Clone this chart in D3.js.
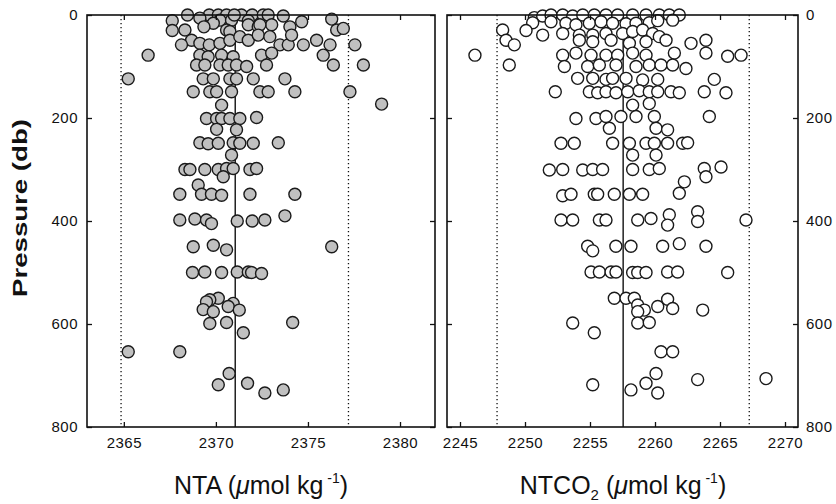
<!DOCTYPE html>
<html><head><meta charset="utf-8">
<script src="https://cdn.jsdelivr.net/npm/d3@7"></script>
<style>body{margin:0;background:#fff}svg{display:block}</style>
</head><body>
<svg id="chart" width="836" height="504"></svg>
<script>
// ---------- DATA ----------
// [pressure (db), NTA (umol/kg)]
const ntaData = [
 [0,2368.46],[0,2369.64],[0,2370.13],[0,2370.58],[0,2371.39],[0,2371.97],[0,2372.57],[0,2372.84],[2,2373.66],[8,2376.29],
 [11,2367.63],[6,2369.13],[10,2370.22],[10,2370.85],[11,2371.76],[13,2374.66],[16,2369.86],[0,2371.0],
 [30,2367.63],[29,2368.32],[23,2369.35],[29,2370.58],[32,2370.76],[19,2371.76],[23,2372.30],[19,2373.03],[23,2374.02],[29,2376.56],[26,2376.92],[19,2372.39],
 [49,2368.68],[58,2368.13],[55,2369.13],[58,2369.64],[55,2370.22],[49,2370.76],[42,2371.30],[49,2371.76],[39,2372.30],[42,2372.93],[58,2373.48],[58,2373.93],[39,2374.11],[58,2374.75],[49,2375.47],[58,2376.20],[58,2377.55],
 [78,2366.32],[78,2369.13],[81,2369.58],[78,2370.31],[81,2370.94],[78,2372.48],[74,2373.03],[78,2375.83],
 [97,2368.95],[97,2369.40],[97,2370.22],[97,2370.67],[97,2371.12],[100,2371.67],[97,2372.75],[97,2376.38],[97,2378.01],
 [124,2365.24],[124,2369.31],[124,2369.86],[124,2370.76],[124,2371.12],[124,2372.03],[124,2373.75],
 [149,2368.77],[149,2369.67],[149,2370.04],[149,2370.85],[149,2372.39],[149,2372.84],[149,2374.29],[149,2377.28],
 [173,2379.00],[175,2370.31],
 [201,2369.49],[201,2370.04],[201,2370.31],[201,2370.76],[201,2371.30],[199,2372.21],
 [222,2370.04],[223,2371.12],
 [248,2369.13],[250,2369.58],[249,2370.13],[248,2370.94],[249,2371.30],[249,2372.03],[248,2373.39],
 [272,2370.85],
 [300,2368.32],[300,2368.59],[300,2369.40],[300,2370.13],[298,2370.58],[298,2370.94],[300,2371.85],[298,2372.21],
 [314,2370.40],
 [330,2369.04],[348,2368.04],[348,2369.22],[348,2369.76],[350,2370.31],[348,2371.85],[348,2374.29],
 [398,2368.04],[396,2368.86],[398,2369.49],[405,2369.76],[400,2371.16],[400,2371.97],[398,2372.66],[390,2373.75],
 [450,2368.77],[447,2369.86],[456,2370.58],[450,2376.29],
 [500,2368.73],[499,2369.40],[500,2370.31],[499,2371.16],[499,2371.76],[500,2371.94],[502,2372.48],
 [550,2370.13],[553,2369.67],[557,2369.49],[560,2370.94],[572,2369.31],[576,2369.86],[566,2370.67],[573,2371.27],
 [599,2369.67],[597,2370.58],[617,2371.49],[597,2374.17],
 [654,2365.24],[654,2368.04],
 [696,2370.72],
 [718,2370.13],[715,2371.72],[734,2372.66],[728,2373.66]
];
// [pressure (db), NTCO2 (umol/kg)]
const tco2Data = [
 [5,2250.72],[2,2251.36],[0,2252.00],[0,2252.90],[2,2253.67],[0,2254.44],[0,2255.33],[0,2256.23],[0,2257.13],[0,2258.28],[0,2259.31],[0,2260.33],[0,2261.10],[0,2261.87],
 [15,2250.59],[13,2252.00],[16,2253.15],[19,2253.92],[16,2254.95],[13,2255.85],[16,2256.74],[17,2257.77],[16,2258.54],[15,2259.56],[11,2260.21],[10,2261.36],
 [29,2248.28],[30,2250.08],[39,2251.36],[36,2252.90],[39,2254.18],[39,2255.21],[36,2256.23],[36,2257.51],[32,2258.28],[29,2259.05],[36,2259.82],[42,2260.33],
 [49,2248.54],[58,2249.18],[49,2254.18],[52,2255.21],[49,2256.62],[55,2258.03],[52,2259.31],[49,2260.85],[55,2262.77],[49,2263.92],
 [78,2246.15],[78,2252.90],[74,2253.92],[78,2255.08],[78,2256.23],[78,2257.13],[74,2258.28],[78,2259.31],[74,2261.49],[74,2263.92],[80,2265.59],[78,2266.62],
 [97,2248.79],[100,2253.03],[100,2254.82],[97,2255.72],[97,2257.00],[100,2258.54],[97,2259.56],[97,2260.46],[97,2261.36],[104,2262.38],
 [123,2254.05],[123,2255.21],[125,2256.23],[123,2256.74],[123,2257.77],[126,2259.05],[125,2260.21],[125,2264.56],
 [149,2252.33],[149,2254.95],[151,2255.59],[149,2256.23],[151,2257.00],[149,2257.90],[147,2258.79],[149,2259.56],[149,2260.21],[149,2261.23],[151,2261.87],[149,2263.79],[151,2265.46],
 [175,2258.28],[172,2259.56],
 [201,2253.92],[201,2255.46],[197,2256.23],[197,2257.38],[197,2258.54],[197,2259.95],[197,2264.18],
 [220,2256.49],[220,2260.08],[223,2260.97],
 [249,2252.77],[249,2253.79],[249,2256.74],[249,2258.03],[249,2259.31],[249,2259.95],[249,2260.97],[249,2262.13],[248,2262.51],
 [272,2258.28],[272,2260.08],
 [301,2251.87],[300,2252.90],[301,2254.44],[300,2255.21],[300,2255.97],[300,2258.28],[300,2259.56],[298,2260.33],[298,2263.79],[295,2265.08],[314,2263.92],
 [324,2262.26],[346,2261.87],[351,2252.90],[348,2253.54],[348,2255.33],[348,2255.59],[348,2256.87],[348,2258.03],[348,2259.05],
 [382,2263.28],[388,2261.10],[401,2263.28],[398,2252.77],[398,2253.67],[398,2255.72],[398,2256.23],[398,2258.67],[395,2259.69],[408,2260.97],[398,2267.00],
 [449,2254.82],[458,2255.21],[449,2256.99],[449,2258.15],[449,2260.59],[444,2261.87],[449,2263.92],
 [499,2255.08],[499,2255.72],[499,2256.62],[499,2257.00],[500,2258.28],[500,2258.67],[500,2259.31],[499,2260.97],[499,2261.74],[500,2265.59],
 [550,2256.87],[550,2257.77],[550,2258.41],[563,2258.67],[573,2259.18],[566,2260.21],[552,2260.97],[570,2261.36],[573,2263.67],[576,2258.67],
 [598,2253.67],[598,2258.67],[597,2259.56],[617,2255.33],
 [654,2260.46],[654,2261.36],
 [696,2260.08],[715,2259.31],[718,2255.21],[708,2263.28],[706,2268.54],[728,2258.15],[734,2260.21]
];
// mean, lower limit, upper limit
const ntaLines = [2371.05, 2364.85, 2377.2];
const tco2Lines = [2257.55, 2247.85, 2267.25];
const ntaTicks = [2365, 2370, 2375, 2380];
const tco2Ticks = [2245, 2250, 2255, 2260, 2265, 2270];
const pressureTicks = [0, 200, 400, 600, 800];
const ntaDomain = [2363, 2381.9];
const tco2Domain = [2244, 2271];
const pressureDomain = [0, 800];

// ---------- DRAW ----------
const svg = d3.select("#chart");
const FONT = "'Liberation Sans', Arial, sans-serif";
const yTop = 15, yBot = 427;
const y = d3.scaleLinear().domain(pressureDomain).range([yTop, yBot]);

function panel(x0, x1, domain, data, lines, ticks, fill, labelSide) {
  const x = d3.scaleLinear().domain(domain).range([x0, x1]);
  const g = svg.append("g");
  g.append("line").attr("x1", x(lines[0])).attr("x2", x(lines[0]))
    .attr("y1", yTop).attr("y2", yBot).attr("stroke", "#111").attr("stroke-width", 1.4);
  [lines[1], lines[2]].forEach(v => {
    g.append("line").attr("x1", x(v)).attr("x2", x(v))
      .attr("y1", yTop).attr("y2", yBot).attr("stroke", "#111")
      .attr("stroke-width", 1.3).attr("stroke-dasharray", "1.3,2.7");
  });
  g.append("g").selectAll("circle").data(data).join("circle")
    .attr("cx", d => x(d[1])).attr("cy", d => y(d[0])).attr("r", 6)
    .attr("fill", fill).attr("stroke", "#1a1a1a").attr("stroke-width", 1.4);
  const axB = g.append("g").attr("transform", `translate(0,${yBot})`)
    .call(d3.axisBottom(x).tickValues(ticks).tickSize(-5).tickFormat(d3.format("d")));
  const axT = g.append("g").attr("transform", `translate(0,${yTop})`)
    .call(d3.axisTop(x).tickValues(ticks).tickSize(-5).tickFormat(""));
  const axL = g.append("g").attr("transform", `translate(${x0},0)`)
    .call(d3.axisLeft(y).tickValues(pressureTicks).tickSize(-5).tickFormat(labelSide === "left" ? d3.format("d") : ""));
  const axR = g.append("g").attr("transform", `translate(${x1},0)`)
    .call(d3.axisRight(y).tickValues(pressureTicks).tickSize(-5).tickFormat(labelSide === "right" ? d3.format("d") : ""));
  [axB, axT, axL, axR].forEach(a => {
    a.select(".domain").remove();
    a.selectAll(".tick line").attr("stroke", "#111").attr("stroke-width", 1.3);
    a.selectAll(".tick text").attr("font-family", FONT).attr("font-size", 15)
      .attr("letter-spacing", 0.5).attr("fill", "#111");
  });
  axB.selectAll(".tick text").attr("dy", "0.71em").attr("y", 10);
  axL.selectAll(".tick text").attr("x", -9);
  axR.selectAll(".tick text").attr("x", 8);
  g.append("rect").attr("x", x0).attr("y", yTop).attr("width", x1 - x0).attr("height", yBot - yTop)
    .attr("fill", "none").attr("stroke", "#111").attr("stroke-width", 1.6);
  return x;
}

panel(87, 435, ntaDomain, ntaData, ntaLines, ntaTicks, "#c0c0c0", "left");
panel(447, 798, tco2Domain, tco2Data, tco2Lines, tco2Ticks, "#ffffff", "right");

svg.append("text")
  .attr("transform", "translate(27,208) rotate(-90)")
  .attr("text-anchor", "middle").attr("font-family", FONT).attr("font-weight", "bold")
  .attr("font-size", 21).attr("textLength", 178).attr("lengthAdjust", "spacingAndGlyphs")
  .attr("fill", "#111").text("Pressure (db)");

function xTitle(cx, parts) {
  const t = svg.append("text").attr("x", cx).attr("y", 494).attr("text-anchor", "middle")
    .attr("font-family", FONT).attr("font-size", 25).attr("fill", "#111");
  parts.forEach(p => {
    const s = t.append("tspan").text(p.t);
    if (p.sub) s.attr("font-size", 15).attr("dy", 6);
    if (p.sup) s.attr("font-size", 14).attr("dy", -11);
    if (p.back) s.attr("dy", p.back);
    if (p.it) s.attr("font-style", "italic");
  });
}
xTitle(261, [{t: "NTA ("}, {t: "\u03bc", it: true}, {t: "mol kg"}, {t: " -1", sup: true}, {t: ")", back: 11}]);
xTitle(623, [{t: "NTCO"}, {t: "2", sub: true}, {t: " (", back: -6}, {t: "\u03bc", it: true}, {t: "mol kg"}, {t: " -1", sup: true}, {t: ")", back: 11}]);
</script>
</body></html>
